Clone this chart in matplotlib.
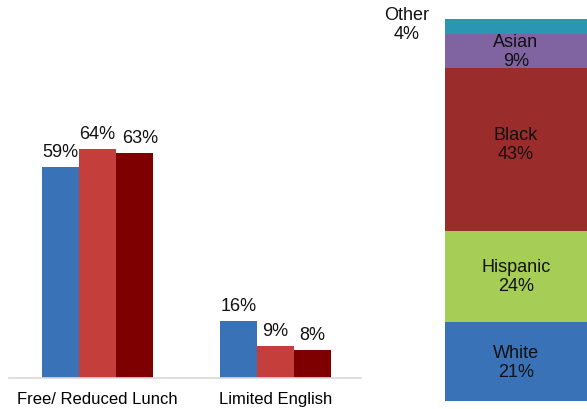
import matplotlib
matplotlib.use("Agg")
import matplotlib.pyplot as plt
import numpy as np

plt.rcParams['font.family'] = ['Liberation Sans', 'DejaVu Sans']

# grouped bars (left)
categories = ['Free/ Reduced Lunch', 'Limited English']
series_a = [59, 16]
series_b = [64, 9]
series_c = [63, 8]
bar_colors = ['#3A72B8', '#C43E3C', '#7F0000']

# stacked bar (right)
groups = ['White', 'Hispanic', 'Black', 'Asian', 'Other']
shares = [21, 24, 43, 9, 4]
stack_colors = ['#3A72B8', '#A6CD55', '#9B2C2C', '#8064A2', '#2B96B1']

W, H = 587, 410
fig = plt.figure(figsize=(W / 100, H / 100), dpi=100)

# --- left: grouped bar chart ---
ax = fig.add_axes([9 / W, 30.7 / H, 351.7 / W, 250.7 / H])
x = np.arange(len(categories))
width = 0.208
for i, (vals, col) in enumerate(zip([series_a, series_b, series_c], bar_colors)):
    pos = x + (i - 1) * width
    bars = ax.bar(pos, vals, width, color=col, edgecolor=col, linewidth=0)
    for b, v in zip(bars, vals):
        # the third label sits a touch to the right so it doesn't crowd its neighbour
        dx = 6 if (i == 2 and v > 50) else 0
        ax.annotate(f'{v}%', (b.get_x() + b.get_width() / 2, v),
                    xytext=(dx, 7), textcoords='offset pixels',
                    ha='center', va='bottom', fontsize=13, color='#111111')

ax.set_xlim(-0.497, 1.479)
ax.set_ylim(0, 70)
ax.set_xticks(x)
ax.set_xticklabels(categories, fontsize=12)
ax.tick_params(axis='x', length=0, pad=9)
ax.set_yticks([])
for s in ['top', 'right', 'left']:
    ax.spines[s].set_visible(False)
ax.spines['bottom'].set_color('#D9D9D9')
ax.spines['bottom'].set_linewidth(1.2)

# --- right: stacked bar ---
ax2 = fig.add_axes([445 / W, 7.7 / H, 142 / W, 382.3 / H])
bottom = 0
for g, s, col in zip(groups, shares, stack_colors):
    ax2.bar(0, s, 1.0, bottom=bottom, color=col, linewidth=0)
    if g == 'Other':
        ax2.text(-0.77, 99.7, f'{g}\n{s}%', ha='center', va='center',
                 fontsize=13, color='#111111', linespacing=1.15, clip_on=False)
    else:
        ymid = bottom + s / 2 + (1.4 if g == 'Black' else 0)
        ax2.text(0, ymid, f'{g}\n{s}%', ha='center', va='center',
                 fontsize=13, color='#111111', linespacing=1.15)
    bottom += s

ax2.set_xlim(-0.5, 0.5)
ax2.set_ylim(0, sum(shares))
ax2.axis('off')

fig.savefig('out.png', dpi=100)
